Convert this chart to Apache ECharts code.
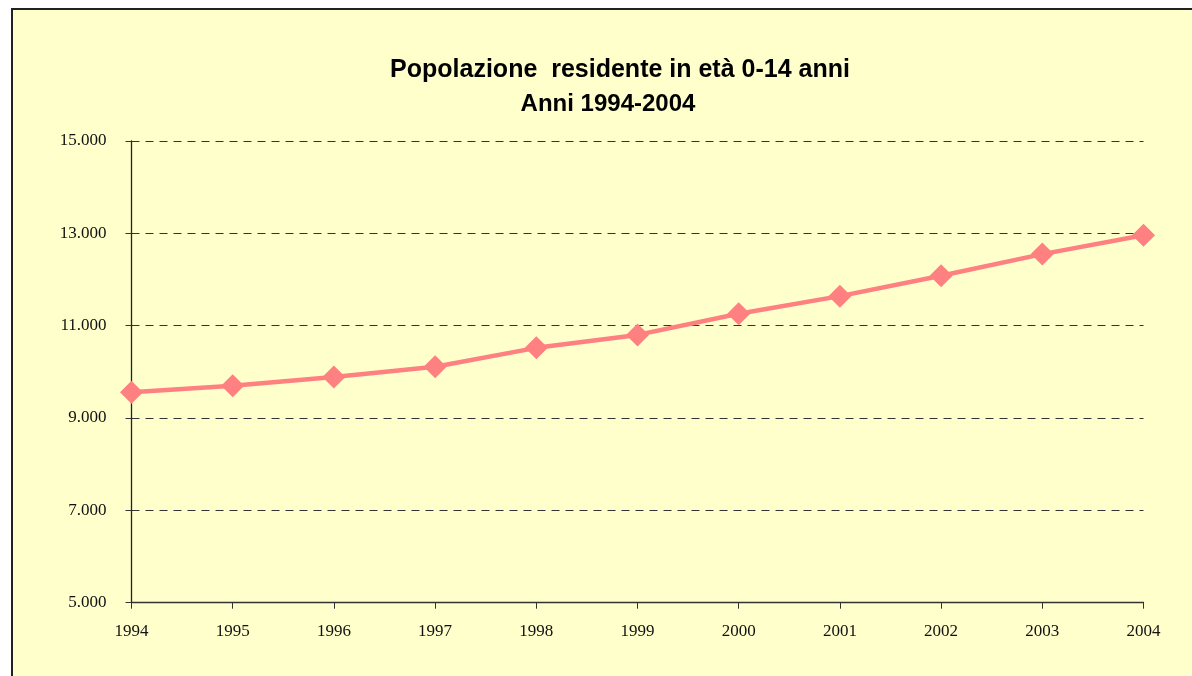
<!DOCTYPE html>
<html>
<head>
<meta charset="utf-8">
<script src="https://cdn.jsdelivr.net/npm/echarts@6/dist/echarts.min.js"></script>
<style>
  html, body { margin: 0; padding: 0; background: #ffffff; }
  #chart { width: 1192px; height: 676px; }
</style>
</head>
<body>
<div id="chart"></div>
<script>
// dati: popolazione residente 0-14 anni
var anni = ['1994', '1995', '1996', '1997', '1998', '1999', '2000', '2001', '2002', '2003', '2004'];
var popolazione = [9560, 9700, 9890, 10110, 10520, 10800, 11260, 11640, 12080, 12550, 12960];
var titolo = 'Popolazione  residente in età 0-14 anni';
var sottotitolo = 'Anni 1994-2004';

function fmtNum(v) {
	// separatore delle migliaia col punto
	return String(v).replace(/\B(?=(\d{3})+(?!\d))/g, '.');
}

var myChart = echarts.init(document.getElementById('chart'));

var option = {
	backgroundColor: '#ffffff',
	animation: false,
	graphic: [
		{
			type: 'rect',
			z: -10,
			shape: { x: 12, y: 9, width: 1220, height: 720 },
			style: { fill: '#FFFFCC', stroke: '#222222', lineWidth: 2 }
		}
	],
	title: [
		{
			text: titolo,
			left: 615,
			top: 53,
			textAlign: 'center',
			textStyle: { fontFamily: 'Liberation Sans, Arial', fontWeight: 'bold', fontSize: 25, color: '#000' }
		},
		{
			text: sottotitolo,
			left: 603,
			top: 87,
			textAlign: 'center',
			textStyle: { fontFamily: 'Liberation Sans, Arial', fontWeight: 'bold', fontSize: 24, color: '#000' }
		}
	],
	grid: {
		left: 131.5,
		right: 48.5,
		top: 141,
		bottom: 73.3,
		containLabel: false
	},
	xAxis: {
		type: 'category',
		boundaryGap: false,
		data: anni,
		axisLine: { lineStyle: { color: '#333', width: 1.3 } },
		axisTick: { alignWithLabel: true, length: 6, lineStyle: { color: '#333' } },
		axisLabel: {
			margin: 20,
			fontFamily: 'Liberation Serif, Times New Roman',
			fontSize: 17,
			color: '#111'
		},
		splitLine: { show: false }
	},
	yAxis: {
		type: 'value',
		min: 5000,
		max: 15000,
		interval: 2000,
		axisLine: { show: true, lineStyle: { color: '#222', width: 1.3 } },
		axisTick: { show: true, length: 6, lineStyle: { color: '#333' } },
		axisLabel: {
			margin: 25,
			fontFamily: 'Liberation Serif, Times New Roman',
			fontSize: 17,
			color: '#111',
			formatter: fmtNum
		},
		splitLine: {
			show: true,
			lineStyle: { color: '#333', type: [8, 6], width: 1 }
		}
	},
	series: [
		{
			name: titolo,
			type: 'line',
			data: popolazione,
			symbol: 'diamond',
			symbolSize: [23, 23],
			showAllSymbol: true,
			itemStyle: { color: '#FF8080' },
			lineStyle: { color: '#FF8080', width: 4.5 }
		}
	]
};

myChart.setOption(option);
</script>
</body>
</html>
